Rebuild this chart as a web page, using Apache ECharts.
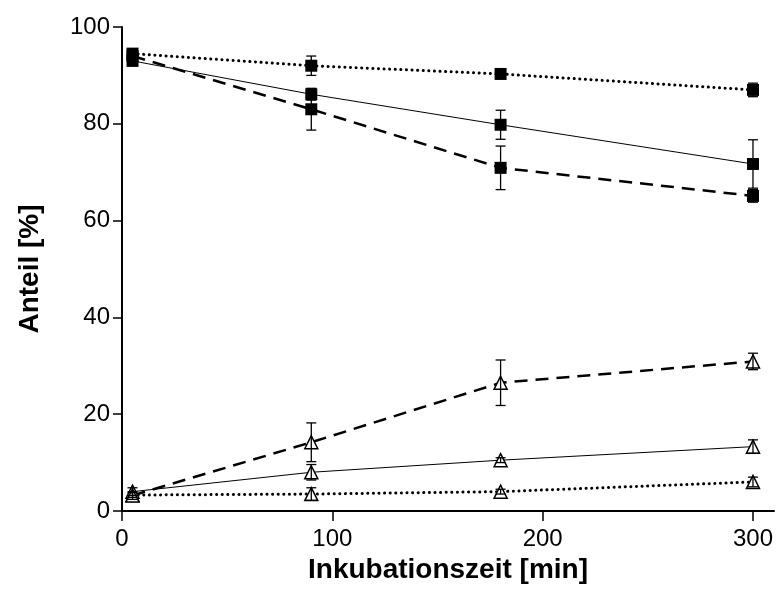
<!DOCTYPE html>
<html>
<head>
<meta charset="utf-8">
<script src="https://cdn.jsdelivr.net/npm/echarts@6/dist/echarts.min.js"></script>
<style>
html,body{margin:0;padding:0;background:#fff;}
#c{width:776px;height:596px;}
</style>
</head>
<body>
<div id="c"></div>
<script>
// time points [min]
const times = [5, 90, 180, 300];
const xTicks = [0, 100, 200, 300];
const yTicks = [0, 20, 40, 60, 80, 100];

// filled squares
const sqDotted = [94.5, 92.0, 90.3, 87.0];
const sqDottedErr = [1.0, 2.0, 0.6, 1.4];
const sqSolid = [93.0, 86.1, 79.8, 71.7];
const sqSolidErr = [1.0, 1.2, 3.0, 5.0];
const sqDashed = [94.0, 83.0, 70.9, 65.1];
const sqDashedErr = [1.0, 4.3, 4.5, 1.3];

// open triangles
const trDotted = [3.3, 3.5, 4.0, 6.0];
const trDottedErr = [0.5, 1.3, 0.5, 1.0];
const trSolid = [4.0, 8.0, 10.5, 13.3];
const trSolidErr = [0.8, 1.6, 0.5, 1.4];
const trDashed = [3.2, 14.2, 26.5, 30.9];
const trDashedErr = [0.8, 4.0, 4.7, 1.7];

const FONT = '"Liberation Sans", Arial, sans-serif';

const styles = {
  solid: {type: 'solid', width: 1, cap: 'butt'},
  dashed: {type: [13, 8], width: 2.5, cap: 'butt'},
  dotted: {type: [0.1, 5.5], width: 3, cap: 'round'}
};

function pts(vals) { return times.map((t, i) => [t, vals[i]]); }

function lineSeries(vals, style, symbol) {
  const tri = symbol === 'triangle';
  return {
    type: 'line',
    data: pts(vals),
    symbol: tri ? 'triangle' : 'rect',
    symbolSize: tri ? [13, 13] : 12,
    showAllSymbol: true,
    clip: false,
    lineStyle: Object.assign({color: '#000'}, styles[style]),
    itemStyle: tri ? {color: '#fff', borderColor: '#000', borderWidth: 1.5}
                   : {color: '#000', borderColor: '#000', borderWidth: 0},
    z: 3
  };
}

function errSeries(vals, errs) {
  return {
    type: 'custom',
    data: times.map((t, i) => [t, vals[i], errs[i]]),
    clip: false,
    z: 4,
    renderItem: function (params, api) {
      const x = api.value(0), y = api.value(1), e = api.value(2);
      const top = api.coord([x, y + e]);
      const bot = api.coord([x, y - e]);
      const hw = 5;
      const st = {stroke: '#000', lineWidth: 1.3};
      return {
        type: 'group',
        children: [
          {type: 'line', shape: {x1: top[0], y1: top[1], x2: bot[0], y2: bot[1]}, style: st},
          {type: 'line', shape: {x1: top[0] - hw, y1: top[1], x2: top[0] + hw, y2: top[1]}, style: st},
          {type: 'line', shape: {x1: bot[0] - hw, y1: bot[1], x2: bot[0] + hw, y2: bot[1]}, style: st}
        ]
      };
    }
  };
}

const chart = echarts.init(document.getElementById('c'), null, {renderer: 'canvas'});
chart.setOption({
  animation: false,
  backgroundColor: '#fff',
  grid: {left: 122, right: 0, top: 27, bottom: 85, containLabel: false},
  xAxis: {
    type: 'value',
    min: 0, max: 310,
    name: 'Inkubationszeit [min]',
    nameLocation: 'middle',
    nameGap: 42,
    nameTextStyle: {fontFamily: FONT, fontSize: 28, fontWeight: 'bold', color: '#000'},
    axisLine: {show: true, onZero: false, lineStyle: {color: '#000', width: 2}},
    axisTick: {show: true, inside: false, length: 10, lineStyle: {color: '#000', width: 1.5}, customValues: xTicks},
    axisLabel: {fontFamily: FONT, fontSize: 24, color: '#000', margin: 16, customValues: xTicks},
    splitLine: {show: false}
  },
  yAxis: {
    type: 'value',
    min: 0, max: 100, interval: 20,
    name: 'Anteil [%]',
    nameLocation: 'middle',
    nameGap: 78,
    nameTextStyle: {fontFamily: FONT, fontSize: 28, fontWeight: 'bold', color: '#000'},
    axisLine: {show: true, onZero: false, lineStyle: {color: '#000', width: 2}},
    axisTick: {show: true, inside: false, length: 9, lineStyle: {color: '#000', width: 1.5}, customValues: yTicks},
    axisLabel: {fontFamily: FONT, fontSize: 24, color: '#000', margin: 12, customValues: yTicks},
    splitLine: {show: false}
  },
  series: [
    lineSeries(sqDotted, 'dotted', 'square'),
    lineSeries(sqSolid, 'solid', 'square'),
    lineSeries(sqDashed, 'dashed', 'square'),
    lineSeries(trDotted, 'dotted', 'triangle'),
    lineSeries(trSolid, 'solid', 'triangle'),
    lineSeries(trDashed, 'dashed', 'triangle'),
    errSeries(sqDotted, sqDottedErr),
    errSeries(sqSolid, sqSolidErr),
    errSeries(sqDashed, sqDashedErr),
    errSeries(trDotted, trDottedErr),
    errSeries(trSolid, trSolidErr),
    errSeries(trDashed, trDashedErr)
  ]
});
</script>
</body>
</html>
